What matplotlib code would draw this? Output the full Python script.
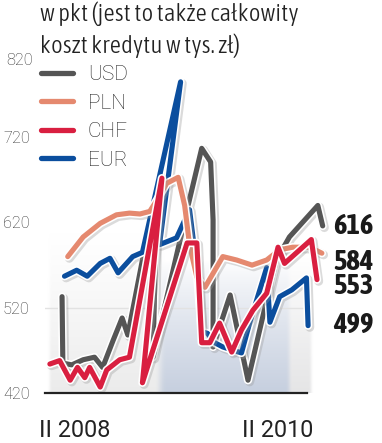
import numpy as np
import matplotlib
matplotlib.use("Agg")
import matplotlib.pyplot as plt
import matplotlib.patheffects as pe
from matplotlib.lines import Line2D
from matplotlib.transforms import blended_transform_factory
from matplotlib import font_manager as fm

# ---------------- data ----------------
title = "w pkt (jest to także całkowity\nkoszt kredytu w tys. zł)"
series_names = ["USD", "PLN", "CHF", "EUR"]
end_labels = ["616", "584", "553", "499"]
x_tick_pos = [3.0, 28.0]
x_tick_labels = ["II 2008", "II 2010"]
y_ticks = [420, 520, 620, 720, 820]

# x = months since II 2008, y = index value (pkt)
usd_x = [1.5, 1.6, 2.7, 4.1, 5.5, 6.5, 7.8, 8.9, 9.6, 13.2, 12.7, 16.9, 18.7, 19.8,
         20.1, 20.1, 22.2, 24.4, 26.7, 27.9, 29.5, 33.0, 33.6]
usd_y = [533, 455, 453, 459, 462, 450, 482, 508, 488, 664, 462, 635, 707, 691,
         623, 474, 535, 435, 529, 576, 603, 640, 616]

pln_x = [2.2, 4.1, 6.2, 8.2, 9.8, 11.1, 12.3, 12.9, 14.4, 15.8, 16.6, 17.2, 18.1,
         19.1, 21.3, 23.0, 24.9, 26.7, 28.3, 29.9, 32.0, 33.5]
pln_y = [580, 603, 619, 629, 631, 630, 633, 642, 666, 673, 640, 594, 556,
         544, 580, 576, 570, 576, 588, 591, 591, 584]

chf_x = [0.0, 1.2, 2.5, 3.4, 4.3, 4.9, 6.2, 7.0, 8.6, 9.8, 13.8, 11.4, 16.9, 18.1,
         18.7, 19.7, 20.9, 22.4, 23.6, 25.0, 26.7, 28.1, 28.9, 32.2, 32.9]
chf_y = [454, 458, 435, 450, 438, 450, 427, 447, 459, 462, 672, 432, 596, 596,
         479, 479, 502, 468, 494, 517, 537, 591, 572, 600, 553]

eur_x = [1.8, 3.3, 4.6, 6.2, 7.4, 8.4, 10.2, 11.4, 16.1, 13.5, 15.6, 17.2, 18.0,
         18.7, 19.4, 20.3, 21.3, 23.6, 24.6, 25.6, 26.7, 27.1, 28.3, 29.8, 31.6, 31.8]
eur_y = [557, 564, 557, 572, 578, 561, 580, 585, 785, 594, 602, 635, 574,
         492, 490, 479, 474, 467, 502, 533, 567, 503, 533, 541, 555, 499]

colors = {"USD": "#555555", "PLN": "#e5896f", "CHF": "#d91f40", "EUR": "#0b4e9e"}

# ---------------- fonts ----------------
FONT = ["Roboto", "DejaVu Sans"]
_WMAP = {"thin": 100, "extra light": 200, "ultralight": 200, "light": 300, "normal": 400,
         "regular": 400, "book": 400, "roman": 400, "medium": 500, "semibold": 600,
         "demibold": 600, "bold": 700, "extra bold": 800, "heavy": 800, "black": 900}

def find_condensed(weight_pref):
    cands = []
    for f in fm.fontManager.ttflist:
        st = str(f.stretch).lower()
        nm = f.name
        if ("condensed" in st and "semi" not in st and "extra" not in st and "ultra" not in st) \
                or ("Condensed" in nm and "Extra" not in nm and "Semi" not in nm) or "Narrow" in nm:
            if f.style != "normal":
                continue
            w = f.weight
            if isinstance(w, str):
                w = _WMAP.get(w.lower(), 400)
            cands.append((abs(int(w) - weight_pref), nm, f.fname))
    cands.sort()
    return cands[0][2] if cands else None

cond_light = find_condensed(300)
cond_bold = find_condensed(700)
title_prop = fm.FontProperties(fname=cond_light, size=18) if cond_light else \
    fm.FontProperties(family=FONT, weight="light", size=15.5)
num_prop = fm.FontProperties(fname=cond_bold, size=20.5) if cond_bold else \
    fm.FontProperties(family=FONT, weight="bold", size=17.5)

# ---------------- figure ----------------
W_PX, H_PX = 382, 443
fig = plt.figure(figsize=(W_PX / 100, H_PX / 100), dpi=100)
fig.patch.set_facecolor("white")

ax_l, ax_r, ax_t, ax_b = 45, 330, 52, 393
ax = fig.add_axes([ax_l / W_PX, 1 - ax_b / H_PX, (ax_r - ax_l) / W_PX, (ax_b - ax_t) / H_PX])
ax.set_facecolor("none")
for s in ax.spines.values():
    s.set_visible(False)

# background shading (decorative)
GW, GH = 400, 220
gx = np.linspace(-0.4, 32.4, GW)
gv = np.linspace(420, 640, GH)
XX, VV = np.meshgrid(gx, gv)
def smooth(a, b, x):
    t = np.clip((x - a) / (b - a), 0, 1)
    return t * t * (3 - 2 * t)
w_blue = smooth(12.8, 14.2, XX) * (1 - smooth(29.0, 29.8, XX))
w_right = smooth(29.0, 29.8, XX)
gray = np.array([0.925, 0.925, 0.925])
blue = np.array([0.78, 0.815, 0.875])
right = np.array([0.90, 0.90, 0.905])
a_gray = np.clip((610 - VV) / 190, 0, 1) ** 1.2
a_blue = np.clip((575 - VV) / 155, 0, 1) ** 0.8
a_right = np.clip((578 - VV) / 158, 0, 1) ** 0.9
w_gray = 1 - w_blue - w_right
rgb = (w_gray[..., None] * gray + w_blue[..., None] * blue + w_right[..., None] * right)
alpha = w_gray * a_gray + w_blue * a_blue + w_right * a_right
alpha *= smooth(-0.4, 0.2, XX) * (1 - smooth(31.8, 32.4, XX))
img = np.dstack([rgb, alpha])
ax.imshow(img, origin="lower", extent=(-0.4, 32.4, 420, 640), aspect="auto",
          zorder=0, interpolation="bilinear")

# gridline at 520 and baseline
ax.axhline(520, xmin=0, xmax=(307 - ax_l) / (ax_r - ax_l), color="#e2e2e2", lw=1.0, zorder=1)
ax.axhline(420, xmin=0, xmax=(307 - ax_l) / (ax_r - ax_l), color="#222222", lw=1.6,
           zorder=7, clip_on=False)

effects = [pe.SimpleLineShadow(offset=(1.2, -1.2), shadow_color="#999999", alpha=0.35, linewidth=6.5),
           pe.Stroke(linewidth=6.0, foreground="white"), pe.Normal()]

data = {"USD": (usd_x, usd_y), "PLN": (pln_x, pln_y), "CHF": (chf_x, chf_y), "EUR": (eur_x, eur_y)}
zorders = {"USD": 3, "EUR": 4, "PLN": 5, "CHF": 6}
for name in ["USD", "EUR", "PLN", "CHF"]:
    xs, ys = data[name]
    ax.plot(xs, ys, color=colors[name], lw=3.7, solid_joinstyle="round",
            solid_capstyle="round", zorder=zorders[name], path_effects=effects, clip_on=False)

ax.set_xlim(-0.6, 34.5)
ax.set_ylim(420, 820)

# y ticks
ax.set_yticks(y_ticks[:-1])
ax.set_yticklabels([str(v) for v in y_ticks[:-1]])
ax.tick_params(axis="y", length=0, pad=11, labelsize=11.8, labelcolor="#333333")
for lab in ax.get_yticklabels():
    lab.set_fontfamily(FONT)
    lab.set_fontweight("light")
ax.annotate(str(y_ticks[-1]), xy=(0, y_ticks[-1]),
            xycoords=blended_transform_factory(ax.transAxes, ax.transData),
            xytext=(-12, -9), textcoords="offset pixels", ha="right", va="center",
            fontsize=11.8, color="#333333", family=FONT, fontweight="light")

# x ticks
ax.set_xticks(x_tick_pos)
ax.set_xticklabels(x_tick_labels)
ax.tick_params(axis="x", length=0, pad=19, labelsize=16.8, labelcolor="#222222")
for lab in ax.get_xticklabels():
    lab.set_fontfamily(FONT)

# end value labels
trans = blended_transform_factory(ax.transAxes, ax.transData)
ends = [usd_y[-1], pln_y[-1], chf_y[-1], eur_y[-1]]
offsets = [-1, -9, -7, 0]
for lab, val, dy in zip(end_labels, ends, offsets):
    ax.annotate(lab, xy=(1, val), xycoords=trans, xytext=(3, dy), textcoords="offset pixels",
                ha="left", va="center", fontproperties=num_prop, color="#1a1a1a",
                annotation_clip=False)

# legend
handles = [Line2D([], [], color=colors[n], lw=3.8, solid_capstyle="round") for n in series_names]
leg = fig.legend(handles, series_names, loc="upper left",
                 bbox_to_anchor=(41 / W_PX, 1 - 65 / H_PX), frameon=False,
                 prop={"family": FONT, "size": 15, "weight": "light"},
                 handlelength=1.55, handletextpad=0.7, labelspacing=0.46,
                 borderpad=0, borderaxespad=0)
for t in leg.get_texts():
    t.set_color("#222222")

# title
fig.text(40 / W_PX, 1 - 1 / H_PX, title, ha="left", va="top",
         fontproperties=title_prop, color="#222222", linespacing=1.4)

fig.savefig("out.png", dpi=100, facecolor="white")
